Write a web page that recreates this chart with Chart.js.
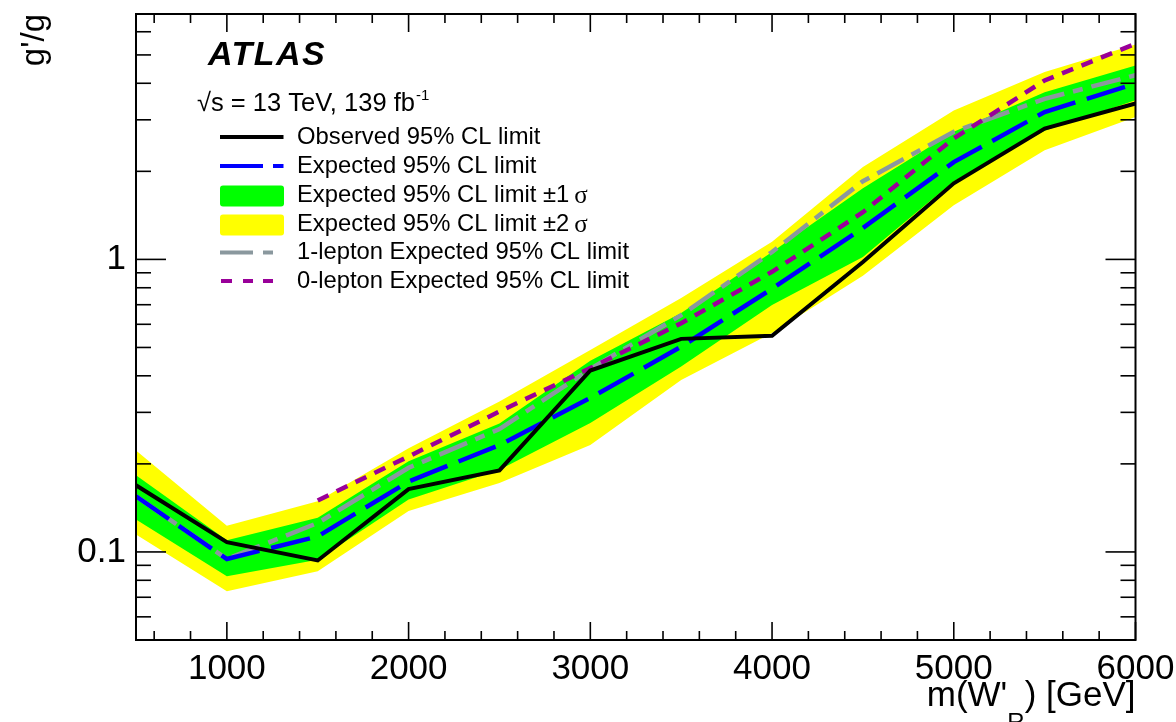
<!DOCTYPE html>
<html><head><meta charset="utf-8">
<script src="https://cdn.jsdelivr.net/npm/chart.js@4.4.1/dist/chart.umd.min.js"></script>
<style>html,body{margin:0;padding:0;background:#fff;overflow:hidden}</style>
</head><body>
<canvas id="c" width="1176" height="722"></canvas>
<script>
const masses = [500,1000,1500,2000,2500,3000,3500,4000,4500,5000,5500,6000];
const observed = [0.169,0.108,0.0935,0.164,0.190,0.417,0.535,0.548,0.98,1.82,2.80,3.41];
const expected = [0.155,0.0946,0.113,0.174,0.232,0.336,0.503,0.794,1.28,2.15,3.19,3.99];
const band1Up = [0.183,0.1096,0.131,0.204,0.275,0.45,0.656,1.06,1.75,2.73,3.73,4.60];
const band1Down = [0.129,0.0826,0.094,0.151,0.191,0.276,0.430,0.698,1.02,1.85,2.75,3.50];
const band2Up = [0.222,0.123,0.149,0.226,0.327,0.49,0.738,1.15,2.07,3.23,4.37,5.43];
const band2Down = [0.1146,0.0734,0.0859,0.138,0.172,0.232,0.387,0.56,0.88,1.53,2.36,3.07];
const lep1Expected = [0.155,0.0946,0.1256,0.194,0.263,0.422,0.645,1.06,1.85,2.73,3.54,4.26];
const lep0Expected = [null,null,0.150,0.212,0.302,0.425,0.605,0.907,1.45,2.59,4.09,5.46];
const xTickLabels = [1000,2000,3000,4000,5000,6000];
const xMinorTicks = [600,800,1200,1400,1600,1800,2200,2400,2600,2800,3200,3400,3600,3800,4200,4400,4600,4800,5200,5400,5600,5800];
const yTickLabels = [0.1,1];
const yMinorTicks = [0.05,0.06,0.07,0.08,0.09,0.2,0.3,0.4,0.5,0.6,0.7,0.8,0.9,2,3,4,5,6];
const legendLabels = ["Observed 95% CL limit","Expected 95% CL limit","Expected 95% CL limit \u00b11","Expected 95% CL limit \u00b12","1-lepton Expected 95% CL limit","0-lepton Expected 95% CL limit"];

const F = "'Liberation Sans', Arial, Helvetica, sans-serif";
const pts = arr => masses.map((m,i)=>({x:m,y:arr[i]}));

const COL = {obs:'#000000', exp:'#0000ff', g:'#00ff00', yel:'#ffff00', l1:'#8a989e', l0:'#990099'};
const DASH = {exp:[40,12], l1:[30,9,10,9], l0:[12,9]};

const decor = {
  id:'decor',
  afterDraw(chart){
    const {ctx, chartArea:a, scales:{x,y}} = chart;
    ctx.save();
    const seg=(x1,y1,x2,y2)=>{ctx.beginPath();ctx.moveTo(x1,y1);ctx.lineTo(x2,y2);ctx.stroke();};
    ctx.strokeStyle='#000'; ctx.lineWidth=1.6;
    x.ticks.forEach(t=>{
      const px=x.getPixelForValue(t.value);
      const L = xTickLabels.includes(t.value)?18:9;
      seg(px,a.bottom,px,a.bottom-L); seg(px,a.top,px,a.top+L);
    });
    y.ticks.forEach(t=>{
      const py=y.getPixelForValue(t.value);
      const L = yTickLabels.includes(t.value)?30:15;
      seg(a.left,py,a.left+L,py); seg(a.right,py,a.right-L,py);
    });
    ctx.lineWidth=2;
    ctx.strokeRect(a.left,a.top,a.right-a.left,a.bottom-a.top);

    ctx.fillStyle='#000';
    ctx.textBaseline='alphabetic';
    // y title
    ctx.save();
    ctx.translate(44,14); ctx.rotate(-Math.PI/2);
    ctx.font='33px '+F; ctx.textAlign='right';
    ctx.fillText("g'/g",0,0);
    ctx.restore();
    // x title
    const p1="m(W'", p3=") [GeV]";
    ctx.textAlign='left';
    ctx.font='35px '+F; const w1=ctx.measureText(p1).width; const w3=ctx.measureText(p3).width;
    ctx.font='24px '+F; const w2=ctx.measureText('R').width;
    let xx=a.right-w3-w2-w1;
    ctx.font='35px '+F; ctx.fillText(p1,xx,706); xx+=w1;
    ctx.font='24px '+F; ctx.fillText('R',xx,730); xx+=w2;
    ctx.font='35px '+F; ctx.fillText(p3,xx,706);

    // ATLAS label
    ctx.font='italic bold 34px '+F;
    ctx.letterSpacing='1.5px';
    ctx.fillText('ATLAS',208,65);
    ctx.letterSpacing='0px';
    // sqrt(s) line
    ctx.font='25.5px '+F;
    let s1='\u221as = 13 TeV, 139 fb';
    ctx.fillText(s1,197,111);
    const ws=ctx.measureText(s1).width;
    ctx.font='15px '+F; ctx.fillText('-1',197+ws+1,100);

    // legend
    const rowY=[137,166,195,224,252.5,281];
    const x0=220, x1=283.5, tx=297;
    ctx.lineCap='butt';
    ctx.strokeStyle=COL.obs; ctx.lineWidth=4; seg(x0,rowY[0],x1,rowY[0]);
    ctx.strokeStyle=COL.exp; ctx.lineWidth=4;
    seg(x0,rowY[1],263,rowY[1]); seg(273,rowY[1],x1,rowY[1]);
    const rr=(x,y,w,h,r,c)=>{ctx.fillStyle=c;ctx.beginPath();ctx.roundRect(x,y,w,h,r);ctx.fill();};
    rr(x0,rowY[2]-9.5,64,21,3,COL.g);
    rr(x0,rowY[3]-9.5,64,21,3,COL.yel);
    ctx.strokeStyle=COL.l1; ctx.lineWidth=4;
    seg(x0,rowY[4],253,rowY[4]); seg(263,rowY[4],273,rowY[4]);
    ctx.strokeStyle=COL.l0;
    seg(221,rowY[5],232,rowY[5]); seg(243,rowY[5],253,rowY[5]); seg(263,rowY[5],273,rowY[5]);
    ctx.fillStyle='#000'; ctx.textBaseline='middle'; ctx.textAlign='left';
    legendLabels.forEach((t,i)=>{
      ctx.font='23.8px '+F;
      ctx.fillText(t,tx,rowY[i]);
      if(i===2||i===3){
        const w=ctx.measureText(t).width;
        ctx.font='25px "Liberation Serif", "Times New Roman", serif';
        ctx.fillText('\u03c3',tx+w+5,rowY[i]+1);
      }
    });
    ctx.restore();
  }
};

const lineDs = (label,arr,color,width,dash,order)=>({
  label, data:pts(arr), borderColor:color, borderWidth:width, borderDash:dash,
  pointRadius:0, fill:false, tension:0, order, spanGaps:false
});

new Chart(document.getElementById('c'),{
  type:'line',
  data:{datasets:[
    {label:'2s up', data:pts(band2Up), borderWidth:0, pointRadius:0, backgroundColor:COL.yel, fill:'+1', order:20},
    {label:'2s down', data:pts(band2Down), borderWidth:0, pointRadius:0, fill:false, order:19},
    {label:'1s up', data:pts(band1Up), borderWidth:0, pointRadius:0, backgroundColor:COL.g, fill:'+1', order:18},
    {label:'1s down', data:pts(band1Down), borderWidth:0, pointRadius:0, fill:false, order:17},
    lineDs('1-lepton',lep1Expected,COL.l1,4.5,DASH.l1,5),
    lineDs('0-lepton',lep0Expected,COL.l0,4.5,DASH.l0,4),
    lineDs('Expected',expected,COL.exp,4.5,DASH.exp,3),
    lineDs('Observed',observed,COL.obs,4,[],1)
  ]},
  options:{
    responsive:false, animation:false, devicePixelRatio:1,
    layout:{padding:{top:14,right:40.5,left:0,bottom:0}},
    plugins:{legend:{display:false}, tooltip:{enabled:false}},
    scales:{
      x:{type:'linear', min:500, max:6000,
        grid:{display:false, drawTicks:false}, border:{display:false},
        afterBuildTicks:s=>{s.ticks=[...xMinorTicks,...xTickLabels].sort((a,b)=>a-b).map(v=>({value:v}));},
        afterFit:s=>{s.height=82; s.paddingLeft=0; s.paddingRight=0;},
        ticks:{autoSkip:false, maxRotation:0, padding:8, color:'#000', font:{family:F,size:35},
          callback:v=>xTickLabels.includes(v)?String(v):''}
      },
      y:{type:'logarithmic', min:0.05, max:6.9,
        grid:{display:false, drawTicks:false}, border:{display:false},
        afterBuildTicks:s=>{s.ticks=[...yMinorTicks,...yTickLabels].sort((a,b)=>a-b).map(v=>({value:v}));},
        afterFit:s=>{s.width=136; s.paddingTop=0; s.paddingBottom=0;},
        ticks:{autoSkip:false, padding:10, color:'#000', font:{family:F,size:35},
          callback:v=>yTickLabels.includes(v)?String(v):''}
      }
    }
  },
  plugins:[decor]
});
</script>
</body></html>
